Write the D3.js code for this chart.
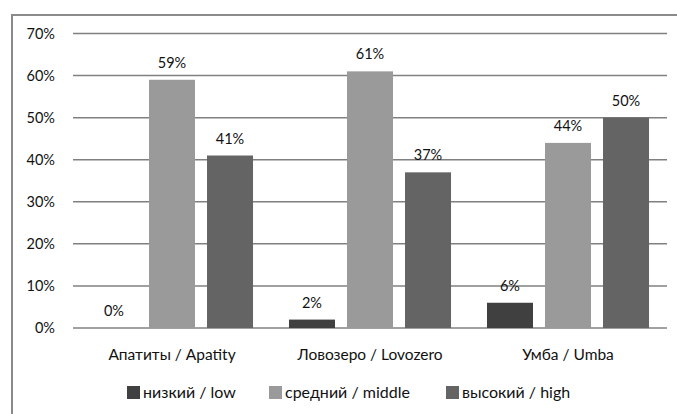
<!DOCTYPE html>
<html><head><meta charset="utf-8">
<script src="https://cdn.jsdelivr.net/npm/d3@7"></script>
<style>body{margin:0;background:#fff}svg{display:block}text{font-family:Lato,"Open Sans",sans-serif;fill:#111}</style>
</head><body><svg id="c" width="677" height="414"></svg>
<script>
const categories = ["Апатиты / Apatity", "Ловозеро / Lovozero", "Умба / Umba"];
const seriesNames = ["низкий / low", "средний / middle", "высокий / high"];
const low = [0, 2, 6];
const middle = [59, 61, 44];
const high = [41, 37, 50];
const yTicks = [0, 10, 20, 30, 40, 50, 60, 70];
const colors = ["#404040", "#9a9a9a", "#646464"];

const series = [low, middle, high];
const svg = d3.select("#c");
const W = 677, H = 414;
const m = {left: 73, right: 10, top: 33.5, bottom: 86};
const x0 = d3.scaleBand().domain(categories).range([m.left, 667]).paddingInner(0).paddingOuter(0);
const x1 = d3.scaleBand().domain(seriesNames).range([0, x0.bandwidth()]).paddingInner(0.207).paddingOuter(0.31);
const y = d3.scaleLinear().domain([0, 70]).range([328, 33.5]);

// frame
svg.append("path").attr("d", `M12,${H} V15 H${W}`).attr("fill","none").attr("stroke","#8a8a8a").attr("stroke-width",2);

// gridlines
svg.append("g").selectAll("line").data(yTicks).join("line")
  .attr("x1", m.left).attr("x2", 667)
  .attr("y1", d => y(d)).attr("y2", d => y(d))
  .attr("stroke", "#808080").attr("stroke-width", 1.5);

// y axis labels
const yAxis = d3.axisLeft(y).tickValues(yTicks).tickFormat(d => d + "%").tickSize(0).tickPadding(0);
const ga = svg.append("g").attr("transform", `translate(55,0)`).call(yAxis);
ga.select(".domain").remove();
ga.selectAll("text").attr("font-size", 14.5).attr("font-family", "Lato, sans-serif").attr("fill", "#111");

// bars
const groups = svg.append("g").selectAll("g").data(categories).join("g")
  .attr("transform", d => `translate(${x0(d)},0)`);
groups.each(function(cat, ci) {
  const g = d3.select(this);
  seriesNames.forEach((s, si) => {
    const v = series[si][ci];
    g.append("rect").attr("x", x1(s)).attr("width", x1.bandwidth())
      .attr("y", y(v)).attr("height", y(0) - y(v)).attr("fill", colors[si]);
    g.append("text").attr("x", x1(s) + x1.bandwidth()/2).attr("y", y(v) - 12)
      .attr("text-anchor", "middle").attr("font-size", 14.5).text(v + "%");
  });
});

// category labels
const xAxis = d3.axisBottom(x0).tickSize(0).tickPadding(0);
const gx = svg.append("g").attr("transform", `translate(0,359.5)`).call(xAxis);
gx.select(".domain").remove();
gx.selectAll("text").attr("font-size", 15.5).attr("font-family", "Lato, sans-serif").attr("fill", "#111").attr("dy", 0);

// legend
const legX = [127, 269, 446];
const leg = svg.append("g").selectAll("g").data(seriesNames).join("g")
  .attr("transform", (d, i) => `translate(${legX[i]},386)`);
leg.append("rect").attr("width", 13).attr("height", 13).attr("fill", (d, i) => colors[i]);
leg.append("text").attr("x", 16).attr("y", 12).attr("font-size", 16).text(d => d);
</script></body></html>
